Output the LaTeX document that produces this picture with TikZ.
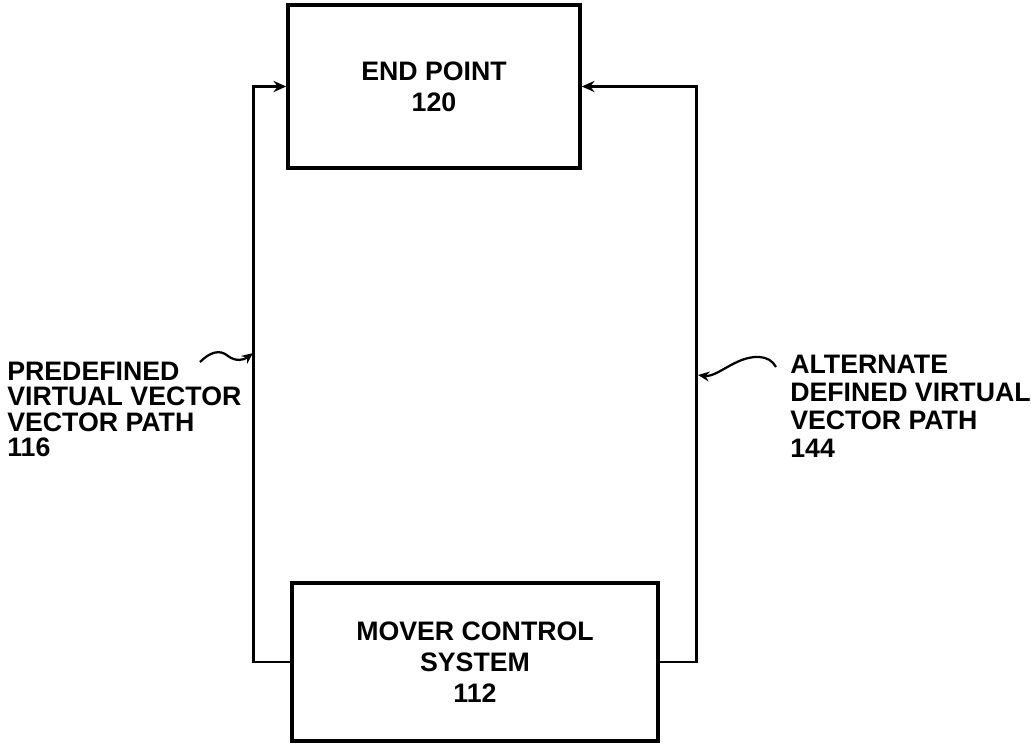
\documentclass[tikz,border=0pt]{standalone}
\usepackage{fontspec}
\setmainfont{Liberation Sans}
\usetikzlibrary{positioning,arrows.meta}

\begin{document}
\begin{tikzpicture}[
    x=0.025cm, y=-0.025cm,
    % Styles
    block/.style={
        draw=black, line width=2.6pt, rectangle,
        font=\fontsize{19}{22}\selectfont\bfseries, align=center,
    },
    lbl/.style={
        font=\fontsize{19}{#1}\selectfont\bfseries, align=left,
        inner sep=0pt, anchor=north west,
    },
    lbl/.default={18},
    arr/.style={-{Stealth[length=9pt,width=8pt]}, line width=2pt},
    leader/.style={-{Stealth[length=8pt,width=7pt]}, line width=1.6pt},
]

\useasboundingbox (0,0) rectangle (1031,744);

% ================================================================
% BLOCKS
% ================================================================
\node[block, minimum width=7.3cm, minimum height=4.075cm] (endpoint) at (434, 86.5)
    {END POINT\\120};
\node[block, minimum width=9.15cm, minimum height=3.95cm] (mover) at (475, 662)
    {MOVER CONTROL\\SYSTEM\\112};

% ================================================================
% LABELS
% ================================================================
\node[lbl] (predef) at (7, 362)
    {PREDEFINED\\VIRTUAL VECTOR\\VECTOR PATH\\116};
\node[lbl=19.9] (altern) at (790, 355)
    {ALTERNATE\\DEFINED VIRTUAL\\VECTOR PATH\\144};

% ================================================================
% PATHS
% ================================================================

% Mover -> End point (predefined path)
\draw[arr] (mover.west) -- ++(-37, 0) |- (endpoint.west);

% Mover -> End point (alternate path)
\draw[arr] (mover.east) -- ++(37, 0) |- (endpoint.east);

% Leaders
\coordinate (predeffoot) at (200, 362);
\coordinate (predeftip) at (253, 353);
\draw[leader] (predeffoot)
    .. controls (210, 352) and (220, 349) .. (228, 356)
    .. controls (236, 362) and (244, 360) .. (predeftip);

\coordinate (alternfoot) at (776, 367);
\coordinate (alterntip) at (698, 375);
\draw[leader] (alternfoot)
    .. controls (769, 354) and (752, 355) .. (737, 362)
    .. controls (724, 368) and (713, 377) .. (alterntip);

\end{tikzpicture}
\end{document}
